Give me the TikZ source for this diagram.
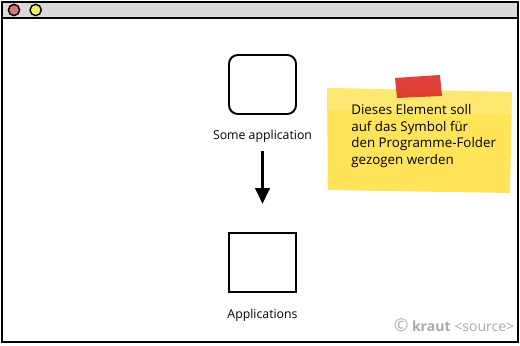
\documentclass[tikz,border=0pt]{standalone}
\usepackage{fontspec}
\setmainfont{Open Sans}
\usepackage{tikz}
\usetikzlibrary{arrows.meta,positioning,calc}
\definecolor{barfill}{RGB}{217,217,217}
\definecolor{btnred}{RGB}{214,120,120}
\definecolor{btnyel}{RGB}{240,240,100}
\definecolor{notey}{RGB}{255,228,90}
\definecolor{tapered}{RGB}{220,45,40}
\definecolor{wmgray}{RGB}{170,170,175}
\tikzset{
  winb/.style={draw=black, line width=1.3pt},
  btn/.style={circle, draw=black, line width=0.8pt, minimum size=6.4pt, inner sep=0pt},
  appbox/.style={draw=black, line width=1.1pt, minimum width=1.34cm, minimum height=1.18cm, inner sep=0pt},
  lbl/.style={font=\fontsize{7}{8}\selectfont},
  darr/.style={-{Triangle[length=3.2mm, width=2.8mm]}, line width=2.2pt},
  notetxt/.style={font=\fontsize{7.6}{9.4}\selectfont, align=left, anchor=north west, inner sep=0pt},
}
\begin{document}
\begin{tikzpicture}
\useasboundingbox (0,0) rectangle (10.4,-6.9);
%---- the window
\fill[white] (0.04,-0.04) rectangle (10.36,-6.84);
\fill[barfill] (0.04,-0.04) rectangle (10.36,-0.36);
\draw[winb] (0.04,-0.36) -- (10.36,-0.36);
\draw[winb] (0.04,-0.04) rectangle (10.36,-6.84);
\node[btn, fill=btnred] (bclose) at (0.28,-0.2) {};
\node[btn, fill=btnyel, right=0.18cm of bclose] (bmin) {};
%---- the two elements
\node[appbox, rounded corners=5pt] (app) at (5.25,-1.69) {};
\node[lbl, below=0.18cm of app] (applbl) {Some application};
\node[appbox] (apps) at (5.25,-5.25) {};
\node[lbl, below=0.2cm of apps] (appslbl) {Applications};
\draw[darr, shorten <=0.04cm, shorten >=0.56cm] (applbl.south -| app.south) -- (apps.north);
%---- the sticky note
\fill[notey] (6.54,-1.76) -- (10.24,-1.84) -- (10.2,-3.86) -- (6.56,-3.80) -- cycle;
\fill[notey!70!white, opacity=0.5] (6.54,-1.76) -- (10.24,-1.84) -- (10.23,-2.3) -- (6.55,-2.2) -- cycle;
\fill[tapered, opacity=0.9] (7.9,-1.56) -- (8.8,-1.5) -- (8.84,-1.92) -- (7.94,-1.96) -- cycle;
\node[notetxt] (note) at (7.02,-2.08)
  {Dieses Element soll\\auf das Symbol für\\den Programme-Folder\\gezogen werden};
%---- watermark
\node[font=\fontsize{8}{9}\selectfont, text=wmgray] (wm) at (9.08,-6.5)
  {\fontsize{10}{10}\selectfont ©\fontsize{8}{9}\selectfont\ \textbf{kraut} <source>};
\end{tikzpicture}
\end{document}
